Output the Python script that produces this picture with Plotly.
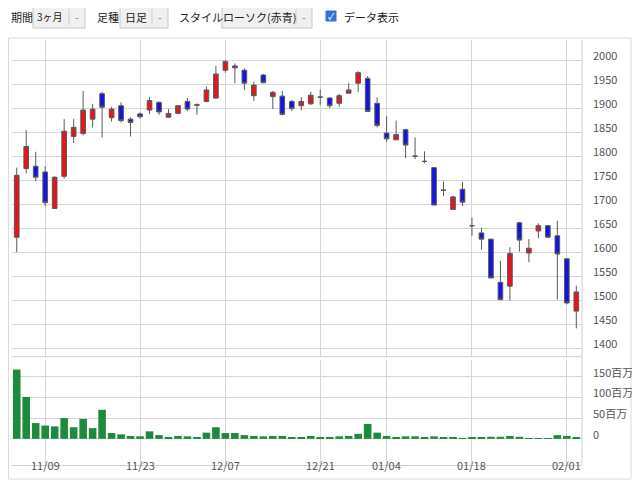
import plotly.graph_objects as go
from plotly.subplots import make_subplots

dates = ["11/04","11/05","11/06","11/09","11/10","11/11","11/12","11/13","11/16","11/17",
         "11/18","11/19","11/20","11/24","11/25","11/26","11/27","11/30","12/01","12/02",
         "12/03","12/04","12/07","12/08","12/09","12/10","12/11","12/14","12/15","12/16",
         "12/17","12/18","12/21","12/22","12/24","12/25","12/28","12/29","12/30","01/04",
         "01/05","01/06","01/07","01/08","01/12","01/13","01/14","01/15","01/18","01/19",
         "01/20","01/21","01/22","01/25","01/26","01/27","01/28","01/29","02/01","02/02"]
opens = [1631,1774,1779,1767,1691,1758,1841,1847,1877,1930,1880,1905,1877,1888,1896,1912,1881,1889,1914,1906,
         1914,1921,1979,1988,1979,1926,1969,1924,1925,1914,1905,1909,1923,1921,1910,1931,1952,1962,1910,1848,
         1834,1855,1800,1789,1776,1729,1689,1731,1655,1640,1627,1537,1529,1661,1598,1644,1655,1634,1586,1477]
highs = [1776,1854,1809,1779,1758,1877,1877,1936,1909,1934,1903,1912,1881,1891,1923,1914,1898,1905,1921,1910,
         1945,1988,2000,1993,1983,1955,1971,1936,1936,1917,1923,1934,1939,1923,1930,1952,1977,1967,1922,1883,
         1874,1857,1839,1810,1777,1747,1717,1746,1672,1651,1628,1582,1610,1663,1627,1660,1656,1665,1586,1530]
lows = [1600,1764,1748,1696,1690,1753,1827,1843,1860,1839,1872,1870,1841,1878,1888,1886,1881,1889,1894,1886,
        1912,1919,1974,1952,1938,1915,1952,1898,1885,1894,1895,1907,1907,1900,1903,1931,1934,1892,1860,1829,
        1834,1796,1794,1785,1698,1717,1688,1696,1634,1605,1546,1500,1499,1601,1579,1629,1629,1501,1491,1441]
closes = [1760,1820,1756,1703,1756,1852,1860,1896,1898,1902,1898,1874,1870,1882,1916,1892,1889,1905,1898,1907,
          1938,1971,1997,1984,1952,1948,1953,1933,1887,1899,1914,1927,1923,1905,1926,1938,1974,1893,1864,1836,
          1845,1823,1800,1789,1698,1729,1715,1704,1655,1627,1546,1501,1597,1625,1608,1655,1631,1596,1494,1517]
volumes = [167,101,38,32,30,50,28,48,26,70,14,11,7,6,18,9,3,7,6,3,
           15,28,14,14,9,7,6,7,7,3,3,7,3,3,6,7,12,36,15,7,
           3,6,6,3,6,3,3,1.5,3,3,5,5,7,5,1,1,1,9,7,3]
price_ticks = [1400,1450,1500,1550,1600,1650,1700,1750,1800,1850,1900,1950,2000]
vol_ticks = [0,50,100,150]
vol_labels = ["0","50百万","100百万","150百万"]
x_tick_dates = ["11/09","11/24","12/07","12/21","01/04","01/18","02/01"]
x_tick_labels = ["11/09","11/23","12/07","12/21","01/04","01/18","02/01"]

FONT = "Noto Sans CJK JP"
OFF = 8  # page body margin
W, H = 640 - OFF, 487 - OFF
ML, MR, MT, MB = 12 - OFF, 58, 40 - OFF, 30 - OFF
PW, PH = W - ML - MR, H - MT - MB
BOT = H - MB + OFF

fig = make_subplots(rows=2, cols=1, shared_xaxes=True, vertical_spacing=0.0)
fig.add_trace(go.Candlestick(
    x=dates, open=opens, high=highs, low=lows, close=closes,
    increasing=dict(fillcolor="#e8141c", line=dict(color="#5a5a5a", width=1)),
    decreasing=dict(fillcolor="#1414e0", line=dict(color="#5a5a5a", width=1)),
    whiskerwidth=0, showlegend=False), row=1, col=1)
fig.add_trace(go.Bar(x=dates, y=volumes, marker=dict(color="#1e8a3e", line=dict(width=0)),
                     width=0.8, showlegend=False), row=2, col=1)

fig.update_xaxes(type="category", categoryorder="array", categoryarray=dates,
                 tickvals=x_tick_dates, ticktext=x_tick_labels, range=[-0.5, 59.6],
                 showgrid=True, gridcolor="#d6d6d6", gridwidth=1, showticklabels=False,
                 rangeslider=dict(visible=False), zeroline=False)
fig.update_xaxes(showline=True, linecolor="#cfcfcf", ticks="", row=2, col=1)

fig.update_yaxes(side="right", range=[1382, 2042], tickvals=price_ticks, showticklabels=False,
                 showgrid=True, gridcolor="#d6d6d6", zeroline=False, row=1, col=1)
fig.update_yaxes(side="right", range=[-63, 190], tickvals=vol_ticks, showticklabels=False,
                 showgrid=True, gridcolor="#d6d6d6", zeroline=False, row=2, col=1)

fig.update_layout(
    width=W, height=H, margin=dict(l=ML, r=MR, t=MT, b=MB),
    paper_bgcolor="white", plot_bgcolor="white", bargap=0.2,
    yaxis=dict(domain=[(BOT - 356.7) / PH, 1]),
    yaxis2=dict(domain=[0, (BOT - 360) / PH]),
)

def px(x): return (x - OFF - ML) / PW
def py(y): return (BOT - y) / PH

shapes = []
def rect(x0, y0, x1, y1, line="#cfcfcf", fill="rgba(0,0,0,0)", lw=1):
    shapes.append(dict(type="rect", xref="paper", yref="paper", x0=px(x0), x1=px(x1),
                       y0=py(y1), y1=py(y0), line=dict(color=line, width=lw), fillcolor=fill, layer="below"))
def line(x0, y0, x1, y1, color="#cfcfcf"):
    shapes.append(dict(type="line", xref="paper", yref="paper", x0=px(x0), x1=px(x1),
                       y0=py(y0), y1=py(y1), line=dict(color=color, width=1)))

rect(8.5, 38, 631, 479, line="#dcdcdc")
line(12, 356.7, 582, 356.7, color="#cfcfcf")
line(582, 40, 582, BOT, color="#cfcfcf")
for x0, x1, sep in [(33, 85, 69), (120, 168, 152), (222, 312, 296)]:
    rect(x0, 6, x1, 28, line="#c8c8c8", fill="#f0f0f0")
    line(sep, 9, sep, 25, color="#cccccc")
rect(326, 11, 336, 21, line="#3a6fd8", fill="#3a6fd8")

anns = []
def text(x, y, s, size=11, color="#222", anchor="left"):
    anns.append(dict(xref="paper", yref="paper", x=px(x), y=py(y), text=s, showarrow=False,
                     xanchor=anchor, yanchor="middle", font=dict(family=FONT, size=size, color=color)))
text(9, 17, "期間")
text(50, 17, "3ヶ月", size=10, anchor="center")
text(77, 17, "-", color="#888", anchor="center")
text(95, 17, "足種")
text(136, 17, "日足", anchor="center")
text(160, 17, "-", color="#888", anchor="center")
text(177, 17, "スタイル")
text(259, 17, "ローソク(赤青)", anchor="center")
text(304, 17, "-", color="#888", anchor="center")
text(331, 16, "✓", size=9, color="white", anchor="center")
text(342, 17, "データ表示")

lab = dict(family=FONT, size=11, color="#555")
for v in price_ticks:
    anns.append(dict(xref="paper", yref="y", x=px(591), y=v, text=str(v), showarrow=False,
                     xanchor="left", yanchor="middle", yshift=5, font=lab))
for v, t in zip(vol_ticks, vol_labels):
    anns.append(dict(xref="paper", yref="y2", x=px(591), y=v, text=t, showarrow=False,
                     xanchor="left", yanchor="middle", yshift=5, font=lab))
for d, t in zip(x_tick_dates, x_tick_labels):
    anns.append(dict(xref="x2", yref="paper", x=d, y=py(465), text=t, showarrow=False,
                     xanchor="center", yanchor="middle", font=lab))
fig.update_layout(shapes=shapes, annotations=anns)

fig.write_html("out.html")
